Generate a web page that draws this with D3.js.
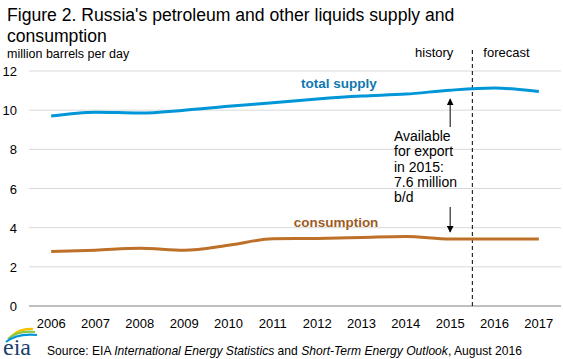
<!DOCTYPE html>
<html><head><meta charset="utf-8">
<script src="https://cdn.jsdelivr.net/npm/d3@7"></script>
<style>body{margin:0;background:#fff;} svg{display:block;font-family:Arial,"Liberation Sans",sans-serif;}</style>
</head><body>
<script>
const years = ["2006","2007","2008","2009","2010","2011","2012","2013","2014","2015","2016","2017"];
const totalSupply = [9.7, 9.9, 9.85, 10.0, 10.2, 10.38, 10.57, 10.72, 10.82, 11.02, 11.13, 10.95];
const consumption = [2.78, 2.85, 2.95, 2.85, 3.1, 3.43, 3.45, 3.5, 3.55, 3.42, 3.42, 3.42];
const yTicks = [0, 2, 4, 6, 8, 10, 12];

const W = 563, H = 359;
const svg = d3.select("body").append("svg").attr("width", W).attr("height", H);
const x = d3.scalePoint().domain(years).range([29, 561]).padding(0.5);
const y = d3.scaleLinear().domain([0, 12]).range([306, 71]);

// title
const t = svg.append("text").attr("x", 7).attr("font-size", 17.6).attr("fill", "#000");
t.append("tspan").attr("x", 7).attr("y", 21).text("Figure 2. Russia's petroleum and other liquids supply and");
t.append("tspan").attr("x", 7).attr("y", 42).text("consumption");
svg.append("text").attr("x", 7).attr("y", 58).attr("font-size", 12.5).text("million barrels per day");

// grid
svg.append("g").selectAll("line").data(yTicks.filter(d => d > 0)).join("line")
  .attr("x1", 29).attr("x2", 561).attr("y1", d => y(d)).attr("y2", d => y(d))
  .attr("stroke", "#d9d9d9").attr("stroke-width", 1);
// y labels
svg.append("g").selectAll("text").data(yTicks).join("text")
  .attr("x", 17).attr("y", d => y(d) + 5).attr("text-anchor", "end")
  .attr("font-size", 13).text(d => d);
// x axis
svg.append("line").attr("x1", 29).attr("x2", 561).attr("y1", 306).attr("y2", 306)
  .attr("stroke", "#808080").attr("stroke-width", 1);
svg.append("g").selectAll("text").data(years).join("text")
  .attr("x", d => x(d)).attr("y", 328).attr("text-anchor", "middle")
  .attr("font-size", 13).text(d => d);

// divider
const divX = (x("2015") + x("2016")) / 2;
svg.append("line").attr("x1", divX).attr("x2", divX).attr("y1", 50).attr("y2", 309)
  .attr("stroke", "#000").attr("stroke-width", 1).attr("stroke-dasharray", "4,3");
svg.append("text").attr("x", divX - 19).attr("y", 57).attr("text-anchor", "end").attr("font-size", 13).text("history");
svg.append("text").attr("x", divX + 11).attr("y", 57).attr("font-size", 13).text("forecast");

// lines
const line = d3.line().x((d, i) => x(years[i])).y(d => y(d)).curve(d3.curveMonotoneX);
svg.append("path").datum(totalSupply).attr("d", line).attr("fill", "none")
  .attr("stroke", "#0096d7").attr("stroke-width", 3);
svg.append("path").datum(consumption).attr("d", line).attr("fill", "none")
  .attr("stroke", "#bd7027").attr("stroke-width", 3);

svg.append("text").attr("x", 339).attr("y", 88).attr("text-anchor", "middle")
  .attr("font-size", 13.5).attr("font-weight", "bold").attr("fill", "#0f78b0").text("total supply");
svg.append("text").attr("x", 336).attr("y", 227).attr("text-anchor", "middle")
  .attr("font-size", 13.5).attr("font-weight", "bold").attr("fill", "#9e5c1e").text("consumption");

// annotation
const defs = svg.append("defs");
defs.append("marker").attr("id", "ah").attr("viewBox", "0 0 10 10").attr("refX", 9).attr("refY", 5)
  .attr("markerWidth", 7).attr("markerHeight", 7).attr("orient", "auto-start-reverse")
  .append("path").attr("d", "M0,0L10,5L0,10z").attr("fill", "#000");
const ax = x("2015");
svg.append("line").attr("x1", ax).attr("x2", ax).attr("y1", 127).attr("y2", 99)
  .attr("stroke", "#000").attr("stroke-width", 1).attr("marker-end", "url(#ah)");
svg.append("line").attr("x1", ax).attr("x2", ax).attr("y1", 207).attr("y2", 232)
  .attr("stroke", "#000").attr("stroke-width", 1).attr("marker-end", "url(#ah)");
const ann = ["Available", "for export", "in 2015:", "7.6 million", "b/d"];
svg.append("g").selectAll("text").data(ann).join("text")
  .attr("x", 394).attr("y", (d, i) => 141 + i * 15.3).attr("font-size", 14).text(d => d);

// logo
const logo = svg.append("g");
logo.append("path").attr("d", "M12,336 Q20,328 33,329").attr("fill", "none").attr("stroke", "#f5c400").attr("stroke-width", 2.2);
logo.append("path").attr("d", "M8,339 Q18,330 35,332").attr("fill", "none").attr("stroke", "#8cc63f").attr("stroke-width", 2.2);
logo.append("path").attr("d", "M6,342 Q17,333 37,335").attr("fill", "none").attr("stroke", "#0096d7").attr("stroke-width", 2.2);
logo.append("text").attr("x", 3).attr("y", 355).attr("font-family", "'Liberation Serif','DejaVu Serif',serif")
  .attr("font-size", 24).attr("fill", "#1c3f6e").text("eia");

// source
const s = svg.append("text").attr("x", 47).attr("y", 355).attr("font-size", 12.1);
s.append("tspan").text("Source: EIA ");
s.append("tspan").attr("font-style", "italic").text("International Energy Statistics");
s.append("tspan").text(" and ");
s.append("tspan").attr("font-style", "italic").text("Short-Term Energy Outlook");
s.append("tspan").text(", August 2016");
</script>
</body></html>
